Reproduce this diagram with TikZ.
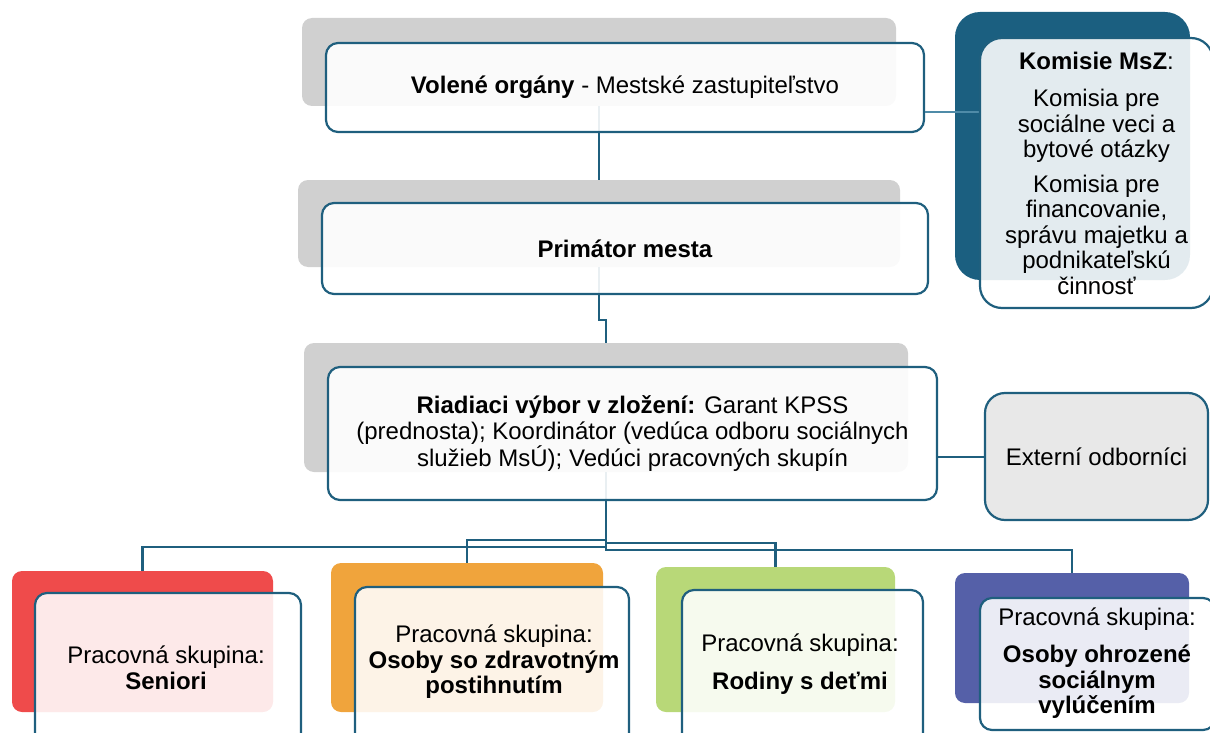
\documentclass[tikz,border=0pt]{standalone}
\usepackage{fontspec}
\setmainfont{Liberation Sans}
\usetikzlibrary{calc}
\definecolor{edge}{HTML}{1F5F7E}
\definecolor{thinedge}{HTML}{4F8BA8}
\definecolor{shgray}{HTML}{D0D0D0}
\definecolor{shteal}{HTML}{1B5F80}
\definecolor{shred}{HTML}{EF4B4B}
\definecolor{shorange}{HTML}{F0A43C}
\definecolor{shgreen}{HTML}{B8D878}
\definecolor{shpurple}{HTML}{5560A8}
\definecolor{extfill}{HTML}{E8E8E8}
\tikzset{
  shadowbox/.style={rounded corners=10pt, draw=none, inner sep=0pt},
  whitebox/.style={rounded corners=12pt, draw=edge, line width=2.2pt, fill=white,
     fill opacity=0.9, text opacity=1, inner sep=0pt, align=center,
     font=\fontsize{24}{25.5}\selectfont},
  link/.style={draw=edge, line width=2.4pt},
  thinlink/.style={draw=thinedge, line width=1.5pt},
  txt/.style={align=center, inner sep=0pt, font=\fontsize{24}{25.5}\selectfont}
}
\begin{document}
\begin{tikzpicture}[x=1pt,y=-1pt]
\useasboundingbox (0,0) rectangle (1210,733);
\clip (0,0) rectangle (1210,733);
% shadows
\node[shadowbox, fill=shgray, minimum width=594pt, minimum height=88pt] (s1) at (599,62) {};
\node[shadowbox, fill=shgray, minimum width=602pt, minimum height=87pt] (s2) at (599,223.5) {};
\node[shadowbox, fill=shgray, minimum width=604pt, minimum height=129pt] (s3) at (606,407.5) {};
\node[shadowbox, fill=shteal, rounded corners=25pt, minimum width=235pt, minimum height=268pt] (ks) at (1072.5,146) {};
\node[shadowbox, fill=shred, minimum width=261pt, minimum height=141pt] (sr) at (142.5,641.5) {};
\node[shadowbox, fill=shorange, minimum width=272pt, minimum height=149pt] (so) at (467,637.5) {};
\node[shadowbox, fill=shgreen, minimum width=239pt, minimum height=145pt] (sg) at (775.5,639.5) {};
\node[shadowbox, fill=shpurple, minimum width=234pt, minimum height=130pt] (sp) at (1072,638) {};
% connectors
\draw[link] (s1.south) -- (s2.north);
\draw[link] (s2.south) -- ++(0,53) -| (s3.north);
\draw[link] (s3.south) -- ++(0,75) -| (sr.north);
\draw[link] (s3.south) -- ++(0,68) -| (so.north);
\draw[link] (s3.south) -- ++(0,71) -| (sg.north);
\draw[link] (s3.south) -- ++(0,78) -| (sp.north);
% main boxes
\node[whitebox, minimum width=598pt, minimum height=89pt] (b1) at (625,87.5)
  {\textbf{Volené orgány} - Mestské zastupiteľstvo};
\node[whitebox, minimum width=606pt, minimum height=91pt] (b2) at (625,248.5)
  {\textbf{Primátor mesta}};
\node[whitebox, minimum width=609pt, minimum height=133pt] (b3) at (632.5,433.5)
  {\textbf{Riadiaci výbor v zložení:} Garant KPSS\\(prednosta); Koordinátor (vedúca odboru sociálnych\\služieb MsÚ); Vedúci pracovných skupín};
% side boxes
\coordinate (c1) at ([yshift=-24.5pt]b1.east);
\node[shadowbox, minimum width=233pt, minimum height=270pt] (kbpos) at (1096.5,173) {};
\draw[thinlink] (c1) -- (c1 -| kbpos.west);
\node[whitebox, rounded corners=22pt, fill opacity=0.88, minimum width=233pt, minimum height=270pt] (kb) at (1096.5,173)
  {\textbf{Komisie MsZ}:\\[12pt]Komisia pre\\sociálne veci a\\bytové otázky\\[9pt]Komisia pre\\financovanie,\\správu majetku a\\podnikateľskú\\činnosť};
\node[whitebox, rounded corners=20pt, fill=extfill, fill opacity=1, minimum width=223pt, minimum height=127pt] (ext) at (1096.5,456.5)
  {Externí odborníci};
\draw[link, line width=2pt] (ext.west -| b3.east) -- (ext.west);
% bottom boxes
\node[whitebox, fill opacity=0.88, minimum width=266pt, minimum height=167pt] (br) at (168,676.5) {};
\node[whitebox, fill opacity=0.88, minimum width=274pt, minimum height=173pt] (bo) at (492,673.5) {};
\node[whitebox, fill opacity=0.88, minimum width=241pt, minimum height=170pt] (bg) at (802.5,675) {};
\node[whitebox, fill opacity=0.88, minimum width=235pt, minimum height=132pt] (bp) at (1097.5,664) {};
\node[txt] (tr) at (166,668) {Pracovná skupina:\\\textbf{Seniori}};
\node[txt] (to) at (494,662) {Pracovná skupina:\\\textbf{Osoby so zdravotným}\\\textbf{postihnutím}};
\node[txt] (tg) at (800,664) {Pracovná skupina:\\[12pt]\textbf{Rodiny s deťmi}};
\node[txt] (tp) at (1097,663) {Pracovná skupina:\\[12pt]\textbf{Osoby ohrozené}\\\textbf{sociálnym}\\\textbf{vylúčením}};
\end{tikzpicture}
\end{document}
